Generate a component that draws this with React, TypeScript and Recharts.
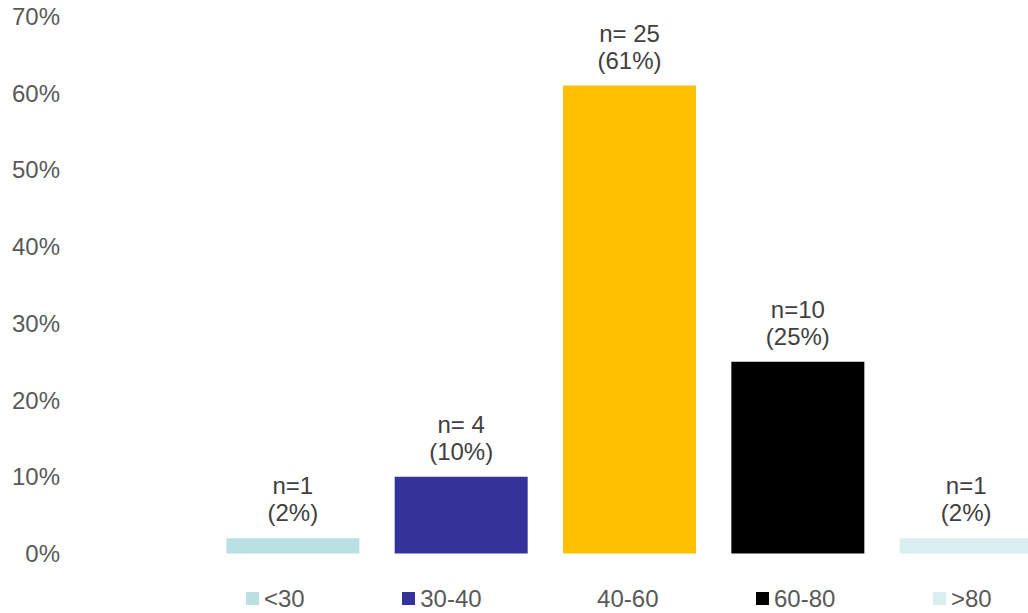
import React from 'react';
import { BarChart, Bar, XAxis, YAxis, Cell, LabelList, Legend } from 'recharts';

// Age groups, their share of respondents (%), and the count labels
const categories = ['<30', '30-40', '40-60', '60-80', '>80'];
const shares = [2, 10, 61, 25, 2];
const counts = ['n=1', 'n= 4', 'n= 25', 'n=10', 'n=1'];
const barColors = ['#B9E0E2', '#333399', '#FFC000', '#000000', '#DAEEEF'];
const yTicks = [0, 10, 20, 30, 40, 50, 60, 70];
// groups whose key square is left out of the legend
const keylessCategories = ['40-60'];

const data = categories.map((name, i) => ({ name, value: shares[i], count: counts[i] }));

const FONT = '"Liberation Sans", Arial, sans-serif';
const FONT_SIZE = 24;

// Legend row: one colour key + group name per age group
const LegendContent = () => (
  <div
    style={{
      display: 'flex',
      alignItems: 'center',
      fontFamily: FONT,
      fontSize: FONT_SIZE,
      lineHeight: '24px',
      color: '#595959',
      whiteSpace: 'nowrap',
    }}
  >
    {categories.map((c, i) => (
      <div
        key={c}
        style={{ display: 'flex', alignItems: 'center', marginRight: i < categories.length - 1 ? 97.5 : 0 }}
      >
        <span
          style={{
            display: 'inline-block',
            width: 13,
            height: 13,
            marginRight: 5,
            background: keylessCategories.includes(c) ? 'transparent' : barColors[i],
          }}
        />
        <span>{c}</span>
      </div>
    ))}
  </div>
);

// Two-line label above each bar: count, then percentage
const BarLabel = (props: any) => {
  const { x, y, width, index, value } = props;
  const cx = Number(x) + Number(width) / 2;
  const top = Number(y);
  return (
    <text x={cx} textAnchor="middle" fill="#404040" fontSize={FONT_SIZE} fontFamily={FONT}>
      <tspan x={cx} y={top - 44}>{counts[index]}</tspan>
      <tspan x={cx} y={top - 17}>{`(${value}%)`}</tspan>
    </text>
  );
};

export default function App() {
  return (
    <div style={{ position: 'absolute', left: 0, top: 0, width: 1028, height: 613, overflow: 'hidden', background: '#fff' }}>
      <BarChart
        width={1050}
        height={613}
        data={data}
        margin={{ top: 16.5, right: 0, bottom: 0, left: 0 }}
      >
        <YAxis
          type="number"
          domain={[0, 70]}
          ticks={yTicks}
          interval={0}
          width={208.35}
          axisLine={false}
          tickLine={false}
          tickSize={0}
          tickMargin={148.35}
          tickFormatter={(v: number) => `${v}%`}
          tick={{ fill: '#595959', fontSize: FONT_SIZE, fontFamily: FONT }}
        />
        <XAxis
          dataKey="name"
          type="category"
          height={59.5}
          axisLine={false}
          tickLine={false}
          tick={false}
        />
        <Legend
          layout="horizontal"
          verticalAlign="middle"
          align="center"
          content={() => <LegendContent />}
          wrapperStyle={{ left: 246, top: 586.5, width: 'auto', height: 24 }}
        />
        <Bar dataKey="value" barSize={133} isAnimationActive={false}>
          {data.map((d, i) => (
            <Cell key={d.name} fill={barColors[i]} />
          ))}
          <LabelList dataKey="value" content={(p: any) => <BarLabel {...p} />} />
        </Bar>
      </BarChart>
    </div>
  );
}
